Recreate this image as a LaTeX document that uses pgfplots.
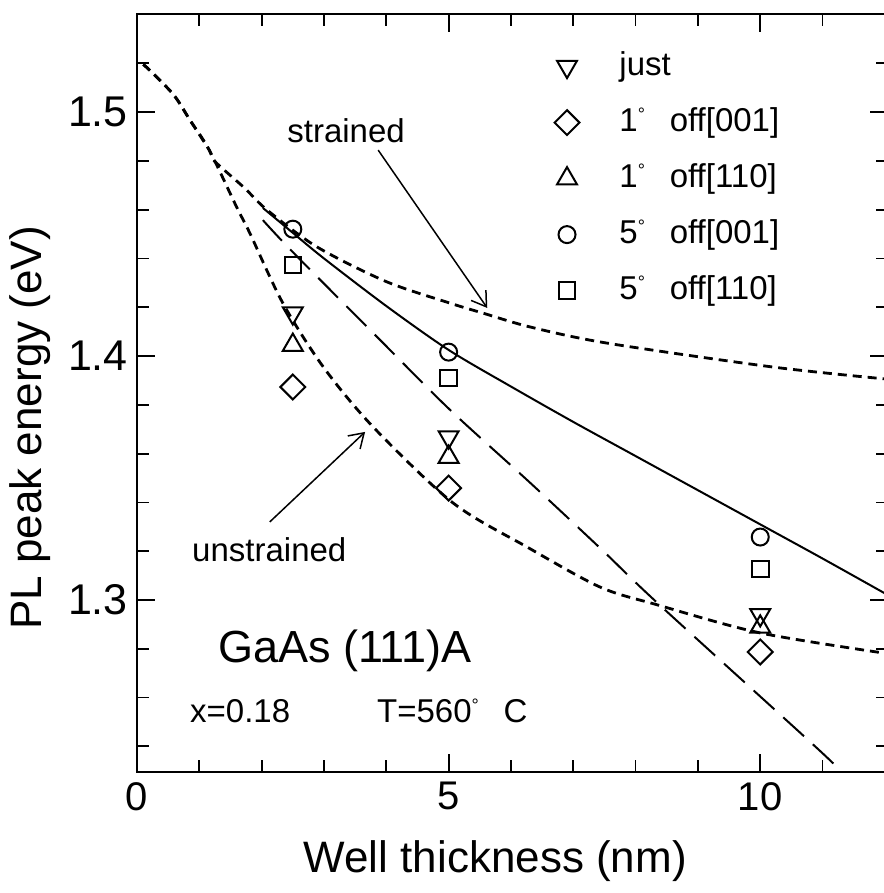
\documentclass[border=0pt]{standalone}
\usepackage{fontspec}
\setmainfont{Liberation Sans}
\usepackage{pgfplots}
\pgfplotsset{compat=1.18}
\usetikzlibrary{arrows.meta}
\newcommand{\dg}{\raisebox{11pt}{\fontsize{18}{18}\selectfont °}}
\begin{document}
\begin{tikzpicture}
\begin{axis}[
  scale only axis, width=751pt, height=758pt,
  xmin=0, xmax=12.05, ymin=1.2295, ymax=1.5402,
  axis line style={line width=2.8pt},
  xtick={0,5,10}, xticklabels={0,5,10},
  ytick={1.3,1.4,1.5}, yticklabels={1.3,1.4,1.5},
  minor xtick={1,2,3,4,6,7,8,9,11,12},
  minor ytick={1.24,1.26,1.28,1.32,1.34,1.36,1.38,1.42,1.44,1.46,1.48,1.52},
  tick align=inside, xtick pos=both, ytick pos=both,
  major tick length=18pt, minor tick length=12pt,
  every tick/.style={line width=1.8pt, black},
  xticklabel style={font=\fontsize{40}{40}\selectfont, inner sep=0pt, yshift=-10pt},
  yticklabel style={font=\fontsize{43}{43}\selectfont, inner sep=0pt, xshift=-9pt},
  xlabel={Well thickness (nm)}, ylabel={PL peak energy (eV)},
  xlabel style={font=\fontsize{44}{44}\selectfont, at={(axis description cs:0.477,-0.133)}, anchor=base, inner sep=0pt},
  ylabel style={font=\fontsize{44}{44}\selectfont, at={(axis description cs:-0.142,0.454)}, anchor=center, inner sep=0pt},
  legend style={at={(axis cs:6.70,1.5254)}, anchor=north west, draw=none, fill=none,
    font=\fontsize{33}{33}\selectfont, inner sep=0pt, outer sep=0pt, row sep=23pt,
    nodes={text height=25pt, text depth=8pt, inner sep=0pt},
    /tikz/every odd column/.append style={column sep=40pt}},
  legend cell align=left,
  legend image code/.code={\draw[#1] plot coordinates {(0pt,0pt)};},
  clip=true,
]
% data points
\addplot[only marks, mark=triangle, mark size=11.5pt, line width=2pt, every mark/.append style={rotate=180}]
  coordinates {(2.5,1.4176) (5,1.3668) (10,1.2939)};
\addlegendentry{just}
\addplot[only marks, mark=square, mark size=8.8pt, line width=2pt, every mark/.append style={rotate=45}]
  coordinates {(2.5,1.3873) (5,1.3459) (10,1.2787)};
\addlegendentry{1\dg\hspace{0.75em}off[001]}
\addplot[only marks, mark=triangle, mark size=11.5pt, line width=2pt]
  coordinates {(2.5,1.4045) (5,1.3586) (10,1.2890)};
\addlegendentry{1\dg\hspace{0.75em}off[110]}
\addplot[only marks, mark=o, mark size=8.5pt, line width=2pt]
  coordinates {(2.5,1.4520) (5,1.4016) (10,1.3258)};
\addlegendentry{5\dg\hspace{0.75em}off[001]}
\addplot[only marks, mark=square, mark size=8.3pt, line width=2pt]
  coordinates {(2.5,1.4373) (5,1.3910) (10,1.3127)};
\addlegendentry{5\dg\hspace{0.75em}off[110]}
% strained
\addplot[forget plot, smooth, no marks, line width=2.8pt, dash pattern=on 9pt off 6pt]
  coordinates {(0.1,1.5195) (0.21,1.517) (0.59,1.507) (0.85,1.4967) (1.16,1.4844) (1.24,1.480)
   (1.72,1.469) (2.09,1.4598) (2.89,1.4447) (4.0,1.4305) (5.02,1.4217) (5.55,1.4176)
   (6.31,1.4119) (7.54,1.4053) (10.2,1.3955) (12.05,1.3905)};
% unstrained
\addplot[forget plot, smooth, no marks, line width=2.8pt, dash pattern=on 9pt off 6pt]
  coordinates {(0.1,1.5195) (0.21,1.517) (0.59,1.507) (0.85,1.4967) (1.16,1.4844)
   (1.6,1.461) (1.81,1.4504) (2.34,1.4217) (2.99,1.3955) (3.79,1.3709) (5.07,1.3398)
   (6.26,1.3217) (7.43,1.3053) (8.35,1.298) (10,1.2865) (12.05,1.2780)};
% solid
\addplot[forget plot, smooth, no marks, line width=2pt]
  coordinates {(2.02,1.4607) (2.5,1.4505) (3,1.440) (4,1.4205) (5,1.4025) (6,1.3875)
   (7,1.373) (8,1.359) (9,1.345) (10,1.331) (11,1.317) (12.05,1.302)};
% long dashed
\addplot[forget plot, smooth, no marks, line width=2pt, dash pattern=on 28pt off 12pt]
  coordinates {(2.02,1.4557) (2.5,1.4426) (3.9,1.4066) (5.02,1.378) (6.31,1.348)
   (7.43,1.3213) (8.35,1.2988) (10.91,1.2393) (11.3,1.2295)};
% annotations
\node[anchor=base west, font=\fontsize{33}{33}\selectfont, inner sep=0pt] at (axis cs:2.41,1.4877) {strained};
\node[anchor=base west, font=\fontsize{33}{33}\selectfont, inner sep=0pt] at (axis cs:0.883,1.3156) {unstrained};
\node[anchor=base west, font=\fontsize{45}{45}\selectfont, inner sep=0pt] at (axis cs:1.30,1.2742) {GaAs (111)A};
\node[anchor=base west, font=\fontsize{33}{33}\selectfont, inner sep=0pt] at (axis cs:0.85,1.2496) {x=0.18};
\node[anchor=base west, font=\fontsize{33}{33}\selectfont, inner sep=0pt] at (axis cs:3.85,1.2496) {T=560\dg\hspace{0.75em}C};
\draw[line width=1.5pt, -{Straight Barb[length=14pt,width=18pt]}] (axis cs:3.87,1.4844) -- (axis cs:5.62,1.4197);
\draw[line width=1.5pt, -{Straight Barb[length=14pt,width=18pt]}] (axis cs:2.13,1.332) -- (axis cs:3.66,1.3689);
\coordinate (bl) at (rel axis cs:0,0);
\coordinate (tr) at (rel axis cs:1,1);
\end{axis}
\pgfresetboundingbox
\path[use as bounding box] ([xshift=-137pt,yshift=-121pt]bl) rectangle ([xshift=-5pt,yshift=14pt]tr);
\end{tikzpicture}
\end{document}
